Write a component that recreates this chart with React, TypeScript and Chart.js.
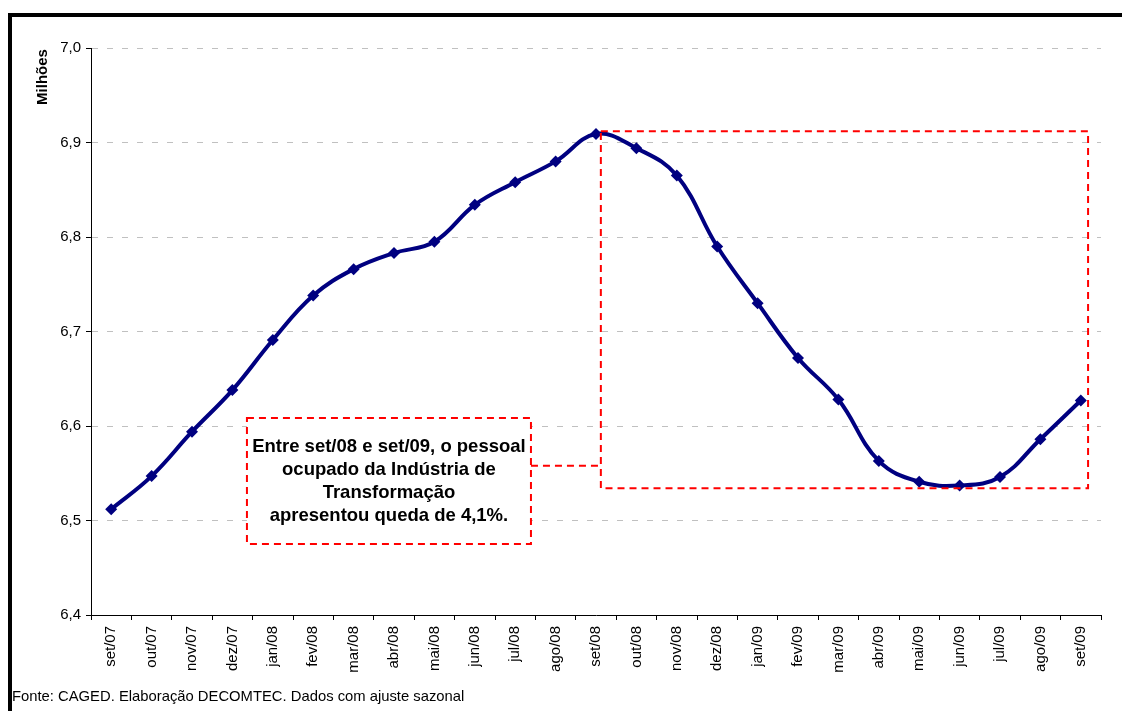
import React, { useEffect, useRef } from "react";
import { Chart, registerables } from "chart.js";

Chart.register(...registerables);

const categories = [
  "set/07", "out/07", "nov/07", "dez/07", "jan/08", "fev/08", "mar/08", "abr/08", "mai/08",
  "jun/08", "jul/08", "ago/08", "set/08", "out/08", "nov/08", "dez/08", "jan/09", "fev/09",
  "mar/09", "abr/09", "mai/09", "jun/09", "jul/09", "ago/09", "set/09",
];

const pessoalOcupado = [
  6.512, 6.547, 6.594, 6.638, 6.691, 6.738, 6.766, 6.783, 6.795,
  6.834, 6.858, 6.880, 6.909, 6.894, 6.865, 6.790, 6.730, 6.672,
  6.628, 6.563, 6.541, 6.537, 6.546, 6.586, 6.627,
];

const yTicks = [6.4, 6.5, 6.6, 6.7, 6.8, 6.9, 7.0];

const annotationLines = [
  "Entre set/08 e set/09, o pessoal",
  "ocupado da Indústria de",
  "Transformação",
  "apresentou queda de 4,1%.",
];

// annotation boxes in data units (category index, value)
const bigBox = { x0: 12.12, x1: 24.18, y0: 6.912, y1: 6.534 };
const textBox = { x0: 3.36, x1: 10.39, y0: 6.6085, y1: 6.4752 };
const connectorY = 6.558;

const yAxisTitle = "Milhões";
const footer = "Fonte: CAGED. Elaboração DECOMTEC. Dados com ajuste sazonal";

const FONT = "'Liberation Sans', Arial, sans-serif";

const overlayPlugin = {
  id: "overlay",
  afterDatasetsDraw(chart: any) {
    const ctx = chart.ctx;
    const xs = chart.scales.x;
    const ys = chart.scales.y;
    const px = (v: number) => xs.getPixelForValue(v);
    const py = (v: number) => ys.getPixelForValue(v);
    ctx.save();
    ctx.strokeStyle = "#ff0000";
    ctx.lineWidth = 2;
    ctx.setLineDash([7, 5]);
    // big box
    ctx.strokeRect(px(bigBox.x0), py(bigBox.y0), px(bigBox.x1) - px(bigBox.x0), py(bigBox.y1) - py(bigBox.y0));
    // text box
    const tx0 = px(textBox.x0), tx1 = px(textBox.x1), ty0 = py(textBox.y0), ty1 = py(textBox.y1);
    ctx.fillStyle = "#ffffff";
    ctx.fillRect(tx0, ty0, tx1 - tx0, ty1 - ty0);
    ctx.strokeRect(tx0, ty0, tx1 - tx0, ty1 - ty0);
    // connector
    ctx.beginPath();
    ctx.moveTo(tx1, py(connectorY));
    ctx.lineTo(px(bigBox.x0), py(connectorY));
    ctx.stroke();
    ctx.setLineDash([]);
    // text
    ctx.fillStyle = "#000000";
    ctx.font = `bold 18.5px ${FONT}`;
    ctx.textAlign = "center";
    ctx.textBaseline = "middle";
    const cx = (tx0 + tx1) / 2;
    const lh = 23;
    const cy = (ty0 + ty1) / 2;
    annotationLines.forEach((l, i) => {
      ctx.fillText(l, cx, cy + (i - (annotationLines.length - 1) / 2) * lh);
    });
    // y axis title
    ctx.save();
    ctx.translate(43, 77);
    ctx.rotate(-Math.PI / 2);
    ctx.font = `bold 15px ${FONT}`;
    ctx.textAlign = "center";
    ctx.textBaseline = "middle";
    ctx.fillText(yAxisTitle, 0, 0);
    ctx.restore();
    // footer
    ctx.font = `14.8px ${FONT}`;
    ctx.textAlign = "left";
    ctx.textBaseline = "middle";
    ctx.fillText(footer, 12, 697);
    ctx.restore();
  },
};

export default function App() {
  const ref = useRef<HTMLCanvasElement | null>(null);
  useEffect(() => {
    if (!ref.current) return;
    const chart = new Chart(ref.current, {
      type: "line",
      data: {
        labels: categories,
        datasets: [
          {
            data: pessoalOcupado,
            borderColor: "#000080",
            backgroundColor: "#000080",
            borderWidth: 4,
            tension: 0.4,
            pointStyle: "rectRot",
            pointRadius: 6,
            pointBorderWidth: 0,
            pointBackgroundColor: "#000080",
          },
        ],
      },
      options: {
        animation: false,
        responsive: false,
        maintainAspectRatio: false,
        layout: { padding: { top: 48, right: 21, left: 0, bottom: 21 } },
        plugins: { legend: { display: false }, tooltip: { enabled: false } },
        scales: {
          x: {
            offset: true,
            grid: {
              display: true,
              drawOnChartArea: false,
              drawTicks: true,
              tickLength: 5,
              color: "#000000",
              offset: true,
            },
            border: { display: true, color: "#000000", width: 1 },
            ticks: {
              color: "#000000",
              font: { family: FONT, size: 15 },
              minRotation: 90,
              maxRotation: 90,
              autoSkip: false,
              padding: 6,
            },
            afterFit(scale: any) {
              scale.height = 75;
            },
          },
          y: {
            min: 6.4,
            max: 7.0,
            afterBuildTicks(scale: any) {
              scale.ticks = yTicks.map((v) => ({ value: v }));
            },
            grid: {
              color: (c: any) => (c.tick && c.tick.value === 6.4 ? "rgba(0,0,0,0)" : "#c0c0c0"),
              tickColor: "#000000",
              tickLength: 5,
              lineWidth: 1,
            },
            border: { display: true, color: "#000000", width: 1, dash: [6, 9] },
            ticks: {
              color: "#000000",
              font: { family: FONT, size: 15 },
              padding: 5,
              callback: (v: any) => Number(v).toFixed(1).replace(".", ","),
            },
            afterFit(scale: any) {
              scale.width = 91;
            },
          },
        },
      },
      plugins: [overlayPlugin],
    } as any);
    return () => chart.destroy();
  }, []);
  return (
    <div style={{ position: "absolute", left: 0, top: 0, width: 1122, height: 711, background: "#fff" }}>
      <canvas ref={ref} width={1122} height={711} style={{ position: "absolute", left: 0, top: 0 }} />
      <div
        style={{
          position: "absolute",
          left: 8,
          top: 13,
          width: 1114,
          height: 698,
          borderTop: "4px solid #000",
          borderLeft: "4px solid #000",
          boxSizing: "border-box",
          pointerEvents: "none",
        }}
      />
    </div>
  );
}
